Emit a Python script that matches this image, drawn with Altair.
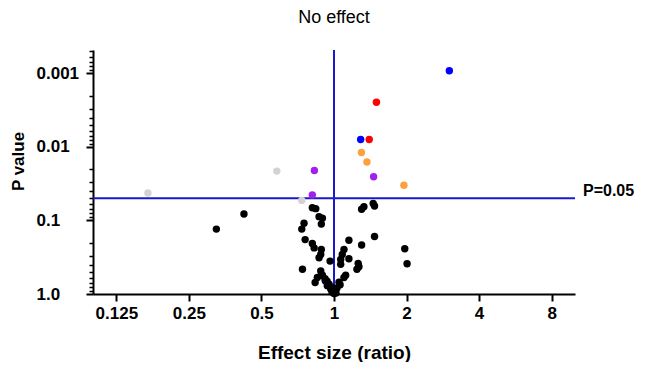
import altair as alt
import pandas as pd

# ---- data ----
blue_x = [3.01, 1.29]
blue_p = [0.00092, 0.0079]
red_x = [1.50, 1.40]
red_p = [0.00247, 0.0079]
orange_x = [1.30, 1.37, 1.95]
orange_p = [0.0119, 0.016, 0.0332]
purple_x = [0.829, 0.813, 1.46]
purple_p = [0.0209, 0.0449, 0.0254]
gray_x = [0.735, 0.579, 0.169]
gray_p = [0.0533, 0.0213, 0.0422]
black_x = [0.423, 0.325, 0.813, 0.840, 0.867, 0.895, 0.886, 0.751, 0.735, 0.759,
           0.813, 0.827, 0.886, 0.881, 0.867, 0.963, 0.740, 0.881, 0.895, 0.853,
           0.835, 0.954, 0.984, 1.000, 0.969, 1.019, 0.981, 1.029, 0.936, 1.049,
           1.000, 0.918, 0.920, 0.938,
           1.302, 1.331, 1.454, 1.473, 1.473, 1.966, 2.010, 1.153, 1.302, 1.100,
           1.082, 1.066, 1.153, 1.066, 1.260, 1.269, 1.245, 1.118, 1.100, 1.060]
black_p = [0.0815, 0.131, 0.067, 0.069, 0.0887, 0.093, 0.112, 0.109, 0.131, 0.182,
           0.206, 0.236, 0.248, 0.290, 0.321, 0.357, 0.461, 0.486, 0.556, 0.597,
           0.697, 0.734, 0.813, 0.903, 0.857, 0.969, 0.940, 0.830, 0.670, 0.690,
           0.985, 0.620, 0.660, 0.770,
           0.0705, 0.065, 0.0586, 0.0637, 0.165, 0.243, 0.387, 0.186, 0.215, 0.248,
           0.290, 0.339, 0.331, 0.395, 0.383, 0.425, 0.461, 0.556, 0.597, 0.750]

groups = ["black", "gray", "purple", "orange", "red", "blue"]
group_colors = ["#000000", "#d3d3d3", "#a020f0", "#ffa040", "#ff0000", "#0000ff"]

x_ticks = [0.125, 0.25, 0.5, 1, 2, 4, 8]
y_decades = [0.0001, 0.001, 0.01, 0.1]
threshold = 0.05
threshold_label = "P=0.05"
chart_title = "No effect"

series = {
    "black": (black_x, black_p),
    "gray": (gray_x, gray_p),
    "purple": (purple_x, purple_p),
    "orange": (orange_x, orange_p),
    "red": (red_x, red_p),
    "blue": (blue_x, blue_p),
}
rows = []
for i, g in enumerate(groups):
    xs, ps = series[g]
    for xv, pv in zip(xs, ps):
        rows.append({"ratio": xv, "p": pv, "group": g, "ord": i})
df = pd.DataFrame(rows)

Y_MIN = 0.00048
y_ticks = [m * d for d in y_decades for m in range(1, 10) if Y_MIN <= m * d <= 1] + [1.0]

W, H = 482, 244
FONT = "Liberation Sans"
LINE = "#1a1acd"

is_major = "abs(log(datum.value)/LN10 - round(log(datum.value)/LN10)) < 0.001"

x_scale = alt.Scale(type="log", base=2, domain=[0.1, 10], nice=False)
y_scale = alt.Scale(type="log", domain=[Y_MIN, 1], reverse=True, nice=False)

x_axis = alt.Axis(
    values=x_ticks, labelExpr="format(datum.value, '~g')", grid=False,
    tickSize=7, tickWidth=2, tickColor="black", domainWidth=2, domainColor="black",
    labelFont=FONT, labelFontWeight="bold", labelFontSize=17, labelColor="black",
    labelPadding=4, labelOverlap=False, labelFlush=False,
    title="Effect size (ratio)", titleFont=FONT, titleFontWeight="bold",
    titleFontSize=19, titleColor="black", titleY=58, titleBaseline="middle",
)
y_axis = alt.Axis(
    values=y_ticks,
    labelExpr=is_major + " ? (datum.value > 0.5 ? '1.0' : format(datum.value, '~g')) : ''",
    grid=False,
    tickSize={"condition": {"test": is_major, "value": 7}, "value": 4},
    tickWidth={"condition": {"test": is_major, "value": 2}, "value": 1.5},
    tickColor="black", domainWidth=2, domainColor="black",
    labelFont=FONT, labelFontWeight="bold", labelFontSize=17, labelColor="black",
    labelAlign="left", labelPadding=50, labelOverlap=False, labelFlush=False,
    title="P value", titleFont=FONT, titleFontWeight="bold", titleFontSize=17,
    titleColor="black", titleAngle=270, titleX=-75, titleY=111,
    titleAlign="center", titleBaseline="middle",
)

xe = alt.X("ratio:Q", scale=x_scale, axis=x_axis)
ye = alt.Y("p:Q", scale=y_scale, axis=y_axis)

hline = alt.Chart(pd.DataFrame({"p": [threshold]})).mark_rule(
    color=LINE, strokeWidth=2).encode(y=ye)
vline = alt.Chart(pd.DataFrame({"ratio": [1.0]})).mark_rule(
    color=LINE, strokeWidth=2).encode(x=xe)
points = alt.Chart(df).mark_circle(size=55, opacity=1).encode(
    x=xe, y=ye,
    color=alt.Color("group:N", scale=alt.Scale(domain=groups, range=group_colors), legend=None),
    order=alt.Order("ord:Q"),
)
label = alt.Chart(pd.DataFrame({"p": [threshold], "t": [threshold_label]})).mark_text(
    align="left", baseline="middle", dy=-7, font=FONT, fontWeight="bold",
    fontSize=16, color="black",
).encode(y=ye, x=alt.value(W + 8), text="t:N")
title = alt.Chart(pd.DataFrame({"t": [chart_title]})).mark_text(
    align="center", baseline="alphabetic", font=FONT, fontSize=18,
    fontWeight="normal", color="black",
).encode(x=alt.value(W / 2), y=alt.value(-27), text="t:N")

chart = alt.layer(hline, vline, points, label, title).properties(
    width=W, height=H,
    autosize=alt.AutoSizeParams(type="none"),
    padding={"left": 85, "top": 42, "right": 63, "bottom": 68},
).configure_view(stroke=None)

chart.save("out.html", embed_options={"renderer": "svg", "actions": False})
